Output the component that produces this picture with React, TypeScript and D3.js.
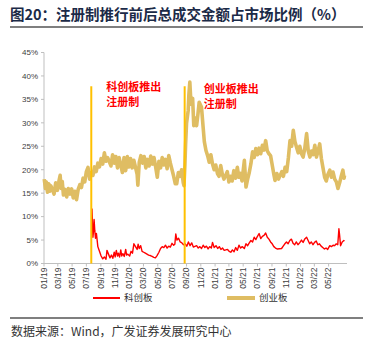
import React from "react";
import * as d3 from "d3";

const titleText = "图20：注册制推行前后总成交金额占市场比例（%）";
const sourceText = "数据来源：Wind，广发证券发展研究中心";
const seriesNames = ["科创板", "创业板"];
const annotations = [
  { date: "2019-07-22", lines: ["科创板推出", "注册制"] },
  { date: "2020-08-24", lines: ["创业板推出", "注册制"] },
];
const yTicks = [0, 5, 10, 15, 20, 25, 30, 35, 40, 45];
const xTickLabels = ["01/19","03/19","05/19","07/19","09/19","11/19","01/20","03/20","05/20","07/20","09/20","11/20","01/21","03/21","05/21","07/21","09/21","11/21","01/22","03/22","05/22"];

// 创业板 (ChiNext) share of total turnover, %
const cybDates = [
  "2019-01-02","2019-01-07","2019-01-11","2019-01-16","2019-01-21","2019-01-25","2019-01-30","2019-02-13","2019-02-20","2019-02-27",
  "2019-03-06","2019-03-11","2019-03-15","2019-03-20","2019-03-25","2019-04-01","2019-04-08","2019-04-15","2019-04-22","2019-04-29",
  "2019-05-06","2019-05-13","2019-05-20","2019-05-27","2019-06-03","2019-06-10","2019-06-17","2019-06-24","2019-07-01","2019-07-08",
  "2019-07-15","2019-07-22","2019-07-29","2019-08-05","2019-08-12","2019-08-19","2019-08-26","2019-09-02","2019-09-09","2019-09-16",
  "2019-09-23","2019-09-30","2019-10-14","2019-10-21","2019-10-28","2019-11-04","2019-11-11","2019-11-18","2019-11-25","2019-12-02",
  "2019-12-09","2019-12-16","2019-12-23","2019-12-30","2020-01-06","2020-01-13","2020-01-20","2020-02-03","2020-02-06","2020-02-12",
  "2020-02-19","2020-02-26","2020-03-04","2020-03-11","2020-03-18","2020-03-25","2020-04-01","2020-04-08","2020-04-15","2020-04-22",
  "2020-04-29","2020-05-06","2020-05-13","2020-05-20","2020-05-27","2020-06-03","2020-06-10","2020-06-17","2020-06-24","2020-07-01",
  "2020-07-08","2020-07-15","2020-07-21","2020-07-28","2020-08-04","2020-08-11","2020-08-18","2020-08-21","2020-08-25","2020-08-28",
  "2020-09-01","2020-09-08","2020-09-11","2020-09-15","2020-09-20","2020-09-27","2020-10-02","2020-10-09","2020-10-14","2020-10-20",
  "2020-10-25","2020-11-04","2020-11-11","2020-11-16","2020-11-23","2020-11-30","2020-12-07","2020-12-14","2020-12-21","2020-12-28",
  "2021-01-04","2021-01-11","2021-01-18","2021-01-25","2021-02-01","2021-02-08","2021-02-22","2021-03-01","2021-03-08","2021-03-15",
  "2021-03-22","2021-03-29","2021-04-06","2021-04-12","2021-04-19","2021-04-26","2021-05-06","2021-05-13","2021-05-20","2021-05-27",
  "2021-06-03","2021-06-10","2021-06-17","2021-06-24","2021-07-01","2021-07-08","2021-07-15","2021-07-22","2021-07-29","2021-08-05",
  "2021-08-12","2021-08-19","2021-08-26","2021-09-02","2021-09-09","2021-09-14","2021-09-22","2021-09-29","2021-10-13","2021-10-20",
  "2021-10-27","2021-11-03","2021-11-10","2021-11-17","2021-11-24","2021-12-01","2021-12-08","2021-12-15","2021-12-22","2021-12-29",
  "2022-01-05","2022-01-12","2022-01-19","2022-01-27","2022-02-03","2022-02-10","2022-02-17","2022-02-24","2022-03-03","2022-03-10",
  "2022-03-17","2022-03-24","2022-03-31","2022-04-07","2022-04-14","2022-04-21","2022-04-28","2022-05-06","2022-05-13","2022-05-20",
  "2022-05-27","2022-06-03","2022-06-10","2022-06-17","2022-06-24","2022-07-01","2022-07-06","2022-07-08",
];
const cybValues = [
  18.0,16.0,17.4,15.2,17.0,15.4,16.6,14.8,17.2,15.6,
  17.6,18.8,16.0,17.5,14.6,15.8,14.2,16.0,14.8,15.9,
  14.0,15.4,13.6,15.8,16.8,16.2,18.2,17.4,19.6,20.5,
  18.0,19.4,18.8,20.6,19.6,21.4,20.6,22.4,21.2,23.6,
  21.8,22.6,20.8,23.2,21.4,22.8,20.4,22.6,21.0,19.4,
  22.6,19.8,22.8,20.6,22.4,20.4,22.0,19.0,16.7,21.6,
  23.0,21.4,22.8,20.4,22.2,20.8,22.9,21.2,22.6,20.6,
  18.4,21.8,20.4,22.6,21.0,22.2,20.2,23.0,21.4,20.0,
  18.6,17.0,17.0,19.4,18.6,20.0,17.2,16.6,21.0,25.5,
  29.9,32.6,36.0,38.7,34.0,35.2,29.4,31.0,29.4,32.0,
  34.4,33.3,29.0,26.0,24.1,23.0,21.6,23.2,21.2,20.0,
  21.0,19.2,18.6,20.9,19.0,18.0,19.6,17.4,18.6,17.6,
  19.8,18.2,20.5,18.4,19.2,17.6,22.0,16.3,18.0,19.4,
  21.3,23.8,22.6,24.5,23.2,24.6,23.4,25.2,24.2,26.2,
  24.0,23.4,23.0,21.0,19.0,17.7,19.2,18.0,19.6,18.6,
  20.5,19.6,22.5,26.2,25.0,28.4,26.0,24.8,23.6,25.0,
  23.4,22.7,24.5,27.7,24.0,22.7,24.0,23.2,25.2,22.7,
  24.0,25.5,22.4,20.4,18.4,17.6,19.0,19.9,18.4,19.5,
  18.0,17.4,16.0,17.2,18.6,19.9,18.2,18.8,
];

// 科创板 (STAR) share of total turnover, %
const starDates = [
  "2019-07-25","2019-07-29","2019-08-01","2019-08-03","2019-08-06","2019-08-09","2019-08-13","2019-08-19","2019-08-26","2019-09-02",
  "2019-09-09","2019-09-16","2019-09-23","2019-09-27","2019-10-10","2019-10-16","2019-10-22","2019-10-28","2019-11-01","2019-11-06",
  "2019-11-11","2019-11-15","2019-11-20","2019-11-25","2019-11-29","2019-12-04","2019-12-10","2019-12-16","2019-12-20","2019-12-25",
  "2020-01-02","2020-01-08","2020-01-14","2020-01-20","2020-02-03","2020-02-07","2020-02-12","2020-02-18","2020-02-24","2020-03-02",
  "2020-03-09","2020-03-16","2020-03-23","2020-03-30","2020-04-07","2020-04-14","2020-04-21","2020-04-28","2020-05-06","2020-05-13",
  "2020-05-20","2020-05-27","2020-06-03","2020-06-10","2020-06-17","2020-06-24","2020-07-01","2020-07-08","2020-07-13","2020-07-17",
  "2020-07-22","2020-07-29","2020-08-05","2020-08-12","2020-08-19","2020-08-26","2020-09-02","2020-09-09","2020-09-16","2020-09-23",
  "2020-09-30","2020-10-14","2020-10-21","2020-10-28","2020-11-04","2020-11-11","2020-11-18","2020-11-25","2020-12-02","2020-12-09",
  "2020-12-16","2020-12-21","2020-12-28","2021-01-05","2021-01-12","2021-01-19","2021-01-26","2021-02-02","2021-02-09","2021-02-23",
  "2021-03-02","2021-03-09","2021-03-16","2021-03-23","2021-03-30","2021-04-06","2021-04-13","2021-04-20","2021-04-27","2021-05-06",
  "2021-05-13","2021-05-20","2021-05-27","2021-06-03","2021-06-10","2021-06-17","2021-06-24","2021-07-01","2021-07-08","2021-07-15",
  "2021-07-22","2021-07-29","2021-08-05","2021-08-12","2021-08-19","2021-08-26","2021-09-02","2021-09-09","2021-09-16","2021-09-23",
  "2021-10-12","2021-10-19","2021-10-26","2021-11-02","2021-11-09","2021-11-16","2021-11-23","2021-11-30","2021-12-07","2021-12-14",
  "2021-12-21","2021-12-28","2022-01-05","2022-01-12","2022-01-19","2022-01-27","2022-02-09","2022-02-16","2022-02-23","2022-03-02",
  "2022-03-09","2022-03-16","2022-03-23","2022-03-30","2022-04-06","2022-04-13","2022-04-20","2022-04-27","2022-05-06","2022-05-13",
  "2022-05-20","2022-05-27","2022-06-02","2022-06-09","2022-06-14","2022-06-17","2022-06-21","2022-06-28","2022-07-05","2022-07-08",
];
const starValues = [
  11.7,5.6,7.2,9.4,7.0,5.4,6.4,3.6,2.6,1.6,
  1.0,1.4,0.9,2.8,1.2,1.8,1.1,2.4,1.4,2.8,
  1.6,2.2,1.4,2.9,1.6,2.1,1.5,3.0,1.8,2.0,
  1.6,2.6,2.2,4.2,3.0,4.1,3.2,3.8,2.6,2.4,
  2.2,2.0,1.8,1.7,1.5,1.3,1.2,1.7,2.4,3.2,
  3.6,3.4,3.9,3.3,3.7,3.5,4.3,3.9,4.1,6.3,
  5.0,5.4,4.6,4.4,4.0,4.2,3.7,4.6,3.8,4.4,
  3.5,3.8,3.3,3.6,3.2,3.9,3.4,3.7,3.1,3.6,
  3.3,4.5,3.4,3.8,3.2,3.6,3.0,3.3,2.8,3.0,
  2.6,2.4,2.9,2.5,3.4,2.8,3.9,3.3,3.6,3.2,
  4.2,3.8,4.4,4.9,4.6,5.6,5.1,5.8,6.4,5.3,
  5.8,6.0,6.5,5.6,5.2,4.6,4.2,3.6,3.3,3.1,
  3.2,3.7,4.2,4.6,4.2,4.9,5.2,4.3,4.0,4.6,
  4.0,4.4,5.0,4.5,5.2,5.6,4.2,4.6,4.0,4.5,
  4.8,4.0,4.2,3.7,3.4,3.1,3.3,3.0,3.8,3.6,
  3.9,3.8,4.2,4.0,7.4,6.0,3.8,4.6,4.9,4.8,
];

const parse = d3.timeParse("%Y-%m-%d");
const parseTick = d3.timeParse("%m/%y");

export default function App() {
  const W = 380, H = 342;
  const x = d3.scaleTime()
    .domain([parse("2019-01-01")!, parse("2022-07-10")!])
    .range([44, 345]);
  const y = d3.scaleLinear().domain([0, 45]).range([263.5, 52.5]);

  const line = d3.line<[Date, number]>()
    .x((d) => x(d[0]))
    .y((d) => y(d[1]));

  const cyb: [Date, number][] = cybDates.map((d, i) => [parse(d)!, cybValues[i]]);
  const star: [Date, number][] = starDates.map((d, i) => [parse(d)!, starValues[i]]);

  const cjk = "'Noto Sans CJK SC', 'Liberation Sans', sans-serif";
  const latin = "'Liberation Sans', Arial, sans-serif";
  const axisX0 = 44, axisX1 = 347, axisY = y(0);

  return (
    <svg width={W} height={H} style={{ position: "absolute", left: 0, top: 0, background: "#fff" }}>
      <text x={10} y={20} fontFamily={cjk} fontWeight="bold" fontSize={14.5} fill="#1b2a47">{titleText}</text>
      <line x1={10} x2={363} y1={27} y2={27} stroke="#000" strokeWidth={1.2} />

      <line x1={axisX0} x2={axisX0} y1={y(45)} y2={axisY} stroke="#bfbfbf" strokeWidth={1} />
      {yTicks.map((t) => (
        <g key={t}>
          <line x1={axisX0 - 3} x2={axisX0} y1={y(t)} y2={y(t)} stroke="#bfbfbf" />
          <text x={38} y={y(t)} dy="0.35em" textAnchor="end" fontFamily={latin} fontSize={8} fill="#404040">{t}%</text>
        </g>
      ))}

      <line x1={axisX0} x2={axisX1} y1={axisY} y2={axisY} stroke="#bfbfbf" strokeWidth={1} />
      {xTickLabels.map((lab) => {
        const tx = x(parseTick(lab)!);
        return (
          <g key={lab}>
            <line x1={tx} x2={tx} y1={axisY} y2={axisY + 3} stroke="#bfbfbf" />
            <text transform={`translate(${tx},${axisY + 4}) rotate(-90)`} dy="0.33em" textAnchor="end" fontFamily={latin} fontSize={8.5} fill="#404040">{lab}</text>
          </g>
        );
      })}

      <path d={line(cyb) || ""} fill="none" stroke="#dfbd63" strokeWidth={3.6} strokeLinejoin="round" />
      <path d={line(star) || ""} fill="none" stroke="#ff0000" strokeWidth={1.4} strokeLinejoin="round" />

      {annotations.map((a, i) => {
        const ax = x(parse(a.date)!);
        return (
          <g key={a.date}>
            <line x1={ax} x2={ax} y1={axisY} y2={y(37.8)} stroke="#ffc000" strokeWidth={2} />
            {a.lines.map((l, j) => (
              <text key={j} x={ax + (i === 0 ? 15 : 19)} y={y(37.8) + 5 + (i === 0 ? 0 : 2) + j * 15} fontFamily={cjk} fontWeight="bold" fontSize={11} fill="#ff0000">{l}</text>
            ))}
          </g>
        );
      })}

      <line x1={93} x2={120} y1={298} y2={298} stroke="#ff0000" strokeWidth={2} />
      <text x={124} y={298} dy="0.35em" fontFamily={cjk} fontSize={9.5} fill="#333">{seriesNames[0]}</text>
      <line x1={227} x2={255} y1={298} y2={298} stroke="#dfbd63" strokeWidth={4} />
      <text x={259} y={298} dy="0.35em" fontFamily={cjk} fontSize={9.5} fill="#333">{seriesNames[1]}</text>

      <line x1={10} x2={363} y1={318} y2={318} stroke="#000" strokeWidth={1.2} />
      <text x={11} y={332} dy="0.35em" fontFamily={cjk} fontSize={12} fill="#333">{sourceText}</text>
    </svg>
  );
}
